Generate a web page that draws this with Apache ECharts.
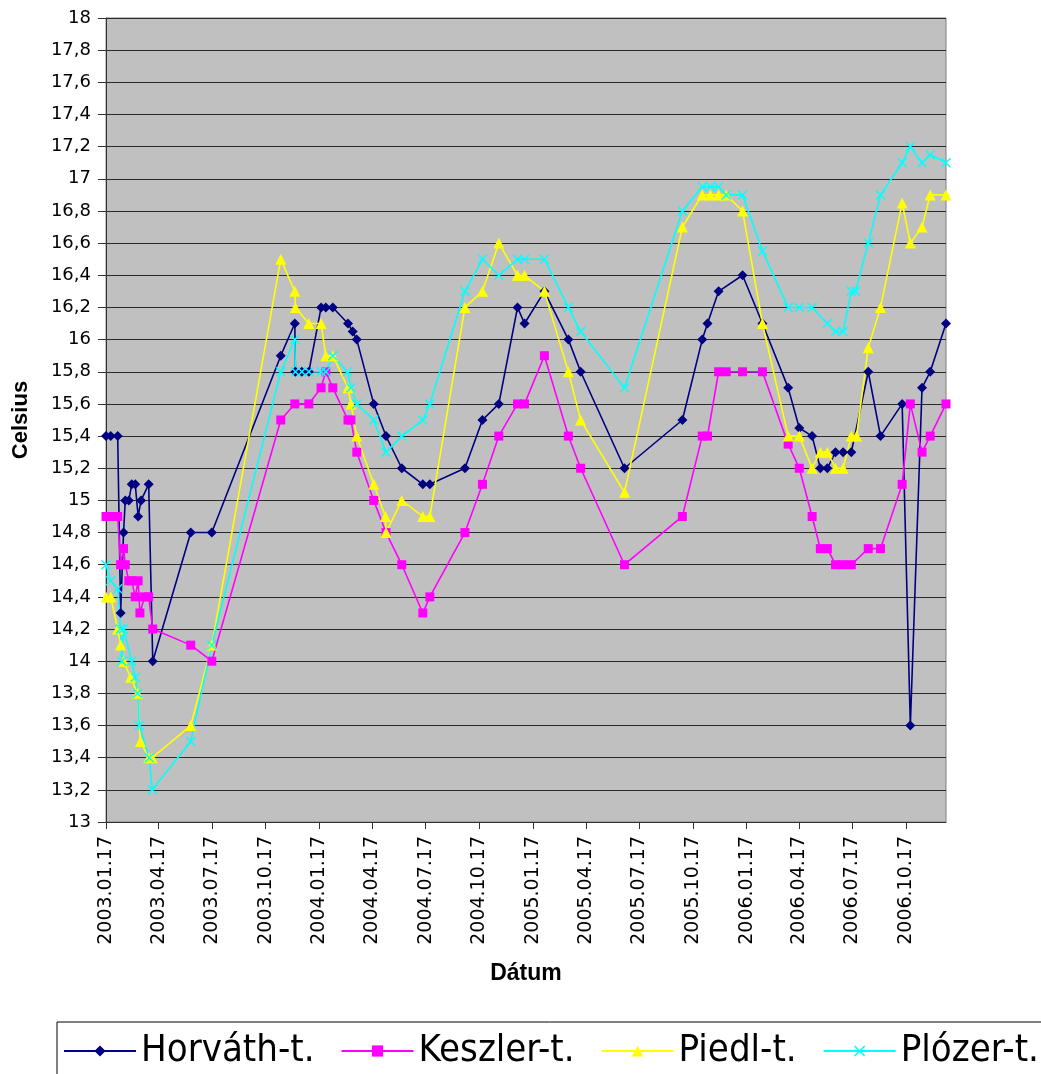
<!DOCTYPE html>
<html><head><meta charset="utf-8">
<script src="https://cdn.jsdelivr.net/npm/echarts@6/dist/echarts.min.js"></script>
<style>html,body{margin:0;padding:0;background:#fff}#c{width:1041px;height:1074px}</style>
</head><body><div id="c"></div>
<script>
const tickLabels = ['2003.01.17','2003.04.17','2003.07.17','2003.10.17','2004.01.17','2004.04.17','2004.07.17','2004.10.17','2005.01.17','2005.04.17','2005.07.17','2005.10.17','2006.01.17','2006.04.17','2006.07.17','2006.10.17'];
const axisStart = '2003-01-17';
const axisEnd = '2006-12-24';

const horvathDates = ['2003-01-17','2003-01-25','2003-02-06','2003-02-11','2003-02-16','2003-02-19','2003-02-25','2003-03-02','2003-03-08','2003-03-13','2003-03-18','2003-03-31','2003-04-07','2003-06-11','2003-07-17','2003-11-12','2003-12-06','2003-12-07','2003-12-18','2003-12-30','2004-01-20','2004-01-28','2004-02-09','2004-03-06','2004-03-14','2004-03-21','2004-04-19','2004-05-10','2004-06-06','2004-07-12','2004-07-24','2004-09-22','2004-10-22','2004-11-19','2004-12-21','2005-01-02','2005-02-05','2005-03-18','2005-04-08','2005-06-22','2005-09-29','2005-11-02','2005-11-11','2005-11-30','2006-01-10','2006-02-13','2006-03-29','2006-04-17','2006-05-09','2006-05-23','2006-06-04','2006-06-18','2006-07-01','2006-07-15','2006-08-13','2006-09-03','2006-10-10','2006-10-24','2006-11-13','2006-11-27','2006-12-24'];
const horvathValues = [15.4,15.4,15.4,14.3,14.8,15.0,15.0,15.1,15.1,14.9,15.0,15.1,14.0,14.8,14.8,15.9,16.1,15.8,15.8,15.8,16.2,16.2,16.2,16.1,16.05,16.0,15.6,15.4,15.2,15.1,15.1,15.2,15.5,15.6,16.2,16.1,16.3,16.0,15.8,15.2,15.5,16.0,16.1,16.3,16.4,16.1,15.7,15.45,15.4,15.2,15.2,15.3,15.3,15.3,15.8,15.4,15.6,13.6,15.7,15.8,16.1];

const keszlerDates = ['2003-01-17','2003-01-25','2003-02-06','2003-02-11','2003-02-16','2003-02-19','2003-02-25','2003-03-02','2003-03-08','2003-03-13','2003-03-16','2003-03-24','2003-03-31','2003-04-07','2003-06-11','2003-07-17','2003-11-12','2003-12-06','2003-12-30','2004-01-20','2004-01-28','2004-02-09','2004-03-06','2004-03-11','2004-03-21','2004-04-19','2004-05-10','2004-06-06','2004-07-12','2004-07-24','2004-09-22','2004-10-22','2004-11-19','2004-12-21','2005-01-02','2005-02-05','2005-03-18','2005-04-08','2005-06-22','2005-09-29','2005-11-02','2005-11-11','2005-11-30','2005-12-13','2006-01-10','2006-02-13','2006-03-29','2006-04-17','2006-05-09','2006-05-23','2006-06-04','2006-06-18','2006-07-01','2006-07-15','2006-08-13','2006-09-03','2006-10-10','2006-10-24','2006-11-13','2006-11-27','2006-12-24'];
const keszlerValues = [14.9,14.9,14.9,14.6,14.7,14.6,14.5,14.5,14.4,14.5,14.3,14.4,14.4,14.2,14.1,14.0,15.5,15.6,15.6,15.7,15.8,15.7,15.5,15.5,15.3,15.0,14.8,14.6,14.3,14.4,14.8,15.1,15.4,15.6,15.6,15.9,15.4,15.2,14.6,14.9,15.4,15.4,15.8,15.8,15.8,15.8,15.35,15.2,14.9,14.7,14.7,14.6,14.6,14.6,14.7,14.7,15.1,15.6,15.3,15.4,15.6];

const piedlDates = ['2003-01-17','2003-01-25','2003-02-06','2003-02-11','2003-02-16','2003-02-28','2003-03-12','2003-03-17','2003-03-31','2003-04-06','2003-06-11','2003-07-17','2003-11-12','2003-12-06','2003-12-07','2003-12-30','2004-01-20','2004-01-28','2004-02-09','2004-03-06','2004-03-11','2004-03-21','2004-04-19','2004-05-09','2004-05-10','2004-06-06','2004-07-12','2004-07-24','2004-09-22','2004-10-22','2004-11-19','2004-12-21','2005-01-02','2005-02-05','2005-03-18','2005-04-08','2005-06-22','2005-09-29','2005-11-02','2005-11-16','2005-11-30','2005-12-13','2006-01-10','2006-02-13','2006-03-29','2006-04-17','2006-05-09','2006-05-23','2006-06-04','2006-06-18','2006-07-01','2006-07-15','2006-07-24','2006-08-13','2006-09-03','2006-10-10','2006-10-24','2006-11-13','2006-11-27','2006-12-24'];
const piedlValues = [14.4,14.4,14.2,14.1,14.0,13.9,13.8,13.5,13.4,13.4,13.6,14.1,16.5,16.3,16.2,16.1,16.1,15.9,15.9,15.7,15.6,15.4,15.1,14.9,14.8,15.0,14.9,14.9,16.2,16.3,16.6,16.4,16.4,16.3,15.8,15.5,15.05,16.7,16.9,16.9,16.9,16.9,16.8,16.1,15.4,15.4,15.2,15.3,15.3,15.2,15.2,15.4,15.4,15.95,16.2,16.85,16.6,16.7,16.9,16.9];

const plozerDates = ['2003-01-17','2003-01-25','2003-02-06','2003-02-11','2003-02-13','2003-02-16','2003-03-02','2003-03-08','2003-03-12','2003-03-15','2003-04-01','2003-04-06','2003-06-11','2003-07-17','2003-11-12','2003-12-06','2003-12-07','2003-12-18','2003-12-30','2004-01-20','2004-01-28','2004-02-09','2004-03-05','2004-03-11','2004-03-21','2004-04-19','2004-05-10','2004-06-06','2004-07-12','2004-07-24','2004-09-22','2004-10-22','2004-11-19','2004-12-21','2005-01-02','2005-02-05','2005-03-18','2005-04-08','2005-06-22','2005-09-29','2005-11-02','2005-11-16','2005-11-30','2005-12-13','2006-01-10','2006-02-13','2006-03-29','2006-04-17','2006-05-09','2006-06-04','2006-06-18','2006-07-01','2006-07-15','2006-07-22','2006-08-13','2006-09-03','2006-10-10','2006-10-24','2006-11-13','2006-11-27','2006-12-24'];
const plozerValues = [14.6,14.5,14.45,14.2,14.0,14.2,14.0,13.9,13.8,13.6,13.4,13.2,13.5,14.1,15.8,16.0,15.8,15.8,15.8,15.8,15.8,15.9,15.8,15.7,15.6,15.5,15.3,15.4,15.5,15.6,16.3,16.5,16.4,16.5,16.5,16.5,16.2,16.05,15.7,16.8,16.95,16.95,16.95,16.9,16.9,16.55,16.2,16.2,16.2,16.1,16.05,16.05,16.3,16.3,16.6,16.9,17.1,17.2,17.1,17.15,17.1];

const seriesNames = ['Horváth-t.','Keszler-t.','Piedl-t.','Plózer-t.'];
const seriesColors = ['#000080','#FF00FF','#FFFF00','#00FFFF'];

function ts(s){ const p = s.split(/[-.]/).map(Number); return Date.UTC(p[0], p[1]-1, p[2]); }
function pad(n){ return (n<10?'0':'')+n; }
function fmtDate(v){ const d = new Date(v); return d.getUTCFullYear()+'.'+pad(d.getUTCMonth()+1)+'.'+pad(d.getUTCDate()); }
function pairs(dates, vals){ return dates.map((d,i)=>[ts(d), vals[i]]); }

const xSym = 'path://M0,1 L1,0 L5,4 L9,0 L10,1 L6,5 L10,9 L9,10 L5,6 L1,10 L0,9 L4,5 Z';
const symbols = ['diamond','rect','triangle', xSym];
const symSizes = [10, 9, 11, 10];
const datasets = [pairs(horvathDates,horvathValues), pairs(keszlerDates,keszlerValues), pairs(piedlDates,piedlValues), pairs(plozerDates,plozerValues)];

const tickVals = tickLabels.map(ts);
const chart = echarts.init(document.getElementById('c'), null, {renderer:'canvas'});
chart.setOption({
  animation:false,
  backgroundColor:'#fff',
  grid:{left:106,right:95,top:18,bottom:252,outerBoundsMode:'none',containLabel:false,show:true,backgroundColor:'#C0C0C0',borderColor:'#808080',borderWidth:1},
  xAxis:{
    type:'value', min:ts(axisStart), max:ts(axisEnd), scale:true,
    name:'Dátum', nameLocation:'middle', nameGap:140,
    nameTextStyle:{fontFamily:'Liberation Sans',fontWeight:'bold',fontSize:23,color:'#000'},
    axisLine:{show:true,lineStyle:{color:'#333',width:1}},
    axisTick:{show:true,length:7,lineStyle:{color:'#333'},customValues:tickVals},
    axisLabel:{rotate:90,margin:14,fontFamily:'DejaVu Sans',fontSize:19,color:'#000',customValues:tickVals,formatter:(v)=>fmtDate(v),hideOverlap:false,showMinLabel:true,showMaxLabel:true},
    splitLine:{show:false}
  },
  yAxis:{
    type:'value', min:13, max:18, interval:0.2,
    name:'Celsius', nameLocation:'middle', nameGap:74, nameRotate:90,
    nameTextStyle:{fontFamily:'Liberation Sans',fontWeight:'bold',fontSize:22,color:'#000'},
    axisLine:{show:true,lineStyle:{color:'#333',width:1}},
    axisTick:{show:true,length:8,lineStyle:{color:'#333'}},
    axisLabel:{margin:15,fontFamily:'DejaVu Sans',fontSize:18,color:'#000',formatter:(v)=>String(Math.round(v*10)/10).replace('.',',')},
    splitLine:{show:true,lineStyle:{color:'#2a2a2a',width:1}}
  },
  legend:{
    left:57, top:1022, width:1300, padding:[10,60,14,6], itemGap:26, itemWidth:72, itemHeight:14,
    borderColor:'#000', borderWidth:1, backgroundColor:'#fff',
    textStyle:{fontFamily:"'DejaVu Sans Condensed', 'Liberation Sans', sans-serif",fontSize:38,color:'#000'},
    data:seriesNames
  },
  series: seriesNames.map((n,i)=>({
    name:n, type:'line', data:datasets[i],
    symbol:symbols[i], symbolSize:symSizes[i], showAllSymbol:true,
    lineStyle:{color:seriesColors[i],width:1.6},
    itemStyle:{color:seriesColors[i]},
    emphasis:{disabled:true}
  }))
});
</script></body></html>
